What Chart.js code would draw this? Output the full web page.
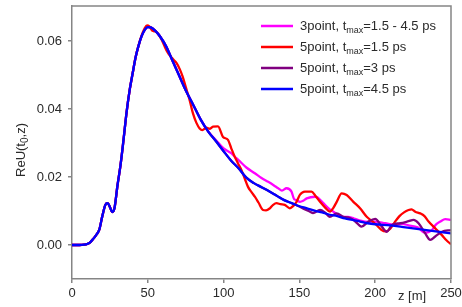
<!DOCTYPE html>
<html>
<head>
<meta charset="utf-8">
<script src="https://cdn.jsdelivr.net/npm/chart.js"></script>
<style>
  html, body { margin: 0; padding: 0; background: #fff; }
  #wrap { width: 462px; height: 307px; }
</style>
</head>
<body>
<div id="wrap"><canvas id="chart"></canvas></div>
<script>
// common rising part (all curves coincide here)
const zRise = [0, 5, 8, 10, 12, 14, 16, 18, 20, 22, 23.5, 25, 26.5, 28, 30, 32, 34, 36, 38, 40, 42, 44];
const vRise = [0, 0, 0.0001, 0.0003, 0.0008, 0.0018, 0.003, 0.0045, 0.0085, 0.0118, 0.0123, 0.0112, 0.0097, 0.0108, 0.0175, 0.0235, 0.031, 0.039, 0.0455, 0.0505, 0.0553, 0.0588];

// 5point, tmax=4.5 ps (blue)
const zBlue = [46, 48, 50, 52, 55, 58, 62, 66, 70, 75, 80, 85, 90, 95, 100, 105, 110, 115, 120, 125, 130, 135, 140, 145, 150, 155, 160, 165, 170, 175, 180, 185, 190, 195, 200, 210, 220, 230, 240, 250];
const vBlue = [0.0615, 0.0633, 0.0641, 0.064, 0.063, 0.0614, 0.0585, 0.0545, 0.0505, 0.0455, 0.0412, 0.0368, 0.0333, 0.0305, 0.0276, 0.0248, 0.0225, 0.0198, 0.0182, 0.017, 0.0158, 0.0145, 0.0132, 0.0123, 0.0114, 0.0108, 0.0101, 0.0096, 0.0089, 0.0085, 0.0078, 0.0074, 0.0069, 0.0064, 0.0061, 0.0058, 0.0052, 0.0046, 0.004, 0.0034];

// 5point, tmax=3 ps (purple) - follows blue up to ~148
const zPurple = [150, 153, 157, 159, 163.6, 167, 170, 174.6, 179, 182, 185.6, 189, 191, 195.5, 200, 204.4, 207.7, 211, 216.5, 222, 225.3, 228.6, 233, 236.3, 239.6, 244, 250];
const vPurple = [0.0113, 0.0106, 0.0098, 0.0094, 0.0103, 0.0095, 0.0083, 0.0093, 0.0083, 0.0081, 0.0074, 0.006, 0.0054, 0.0069, 0.0077, 0.0054, 0.0039, 0.0059, 0.0064, 0.007, 0.0074, 0.0064, 0.0034, 0.0015, 0.0025, 0.0039, 0.0044];

// 3point, tmax=1.5 - 4.5 ps (magenta) - follows blue up to ~90
const zMagenta = [95, 100, 105, 107.3, 110, 115, 120.6, 125, 129.4, 133, 136, 138.5, 141.5, 144.8, 146.5, 148.1, 150.4, 152.5, 154.8, 160.3, 162, 165.8, 170, 172.4, 177.9, 182, 186, 190, 195, 200, 206.6, 213.2, 217.6, 222, 228, 233, 237, 240, 243, 246.2, 250];
const vMagenta = [0.0308, 0.0284, 0.027, 0.026, 0.0249, 0.0228, 0.0211, 0.0197, 0.0186, 0.0176, 0.0167, 0.016, 0.0167, 0.0157, 0.0135, 0.0132, 0.0127, 0.013, 0.0137, 0.0142, 0.014, 0.0123, 0.0105, 0.0098, 0.0083, 0.0083, 0.0078, 0.0072, 0.0068, 0.0069, 0.0064, 0.0059, 0.0062, 0.0058, 0.0052, 0.0036, 0.0042, 0.006, 0.0069, 0.0076, 0.0074];

// 5point, tmax=1.5 ps (red)
const zRed = [46, 48, 49.5, 51, 53, 55, 57, 59, 61, 63, 65, 67, 69, 71, 73, 75, 77.6, 79.8, 82, 84.2, 86, 88.6, 91, 93, 96.3, 99.6, 102.9, 105, 107.3, 109.5, 111.8, 114, 116.1, 118.5, 120.6, 123, 126, 128, 130.5, 132.7, 134.9, 137.5, 140.4, 143.7, 146, 148.1, 150.4, 153.6, 158, 160.5, 163.6, 167, 170.2, 172.5, 174.6, 177.9, 181.2, 185.6, 190, 194.4, 198, 201, 204, 207, 209.9, 213, 216, 219, 222, 224, 226.4, 229.7, 232.5, 235.2, 239.6, 244, 247, 250];
const vRed = [0.0617, 0.0638, 0.0646, 0.0643, 0.063, 0.0628, 0.062, 0.0605, 0.0585, 0.0567, 0.0555, 0.0545, 0.0535, 0.0518, 0.0495, 0.0465, 0.0426, 0.0387, 0.036, 0.0343, 0.0338, 0.0345, 0.0342, 0.0348, 0.0349, 0.0318, 0.0309, 0.0285, 0.026, 0.024, 0.022, 0.0195, 0.0171, 0.0155, 0.0142, 0.0125, 0.0103, 0.0102, 0.0108, 0.0118, 0.0123, 0.012, 0.0118, 0.0108, 0.0115, 0.0127, 0.0148, 0.0157, 0.0157, 0.0145, 0.0127, 0.011, 0.0098, 0.011, 0.0127, 0.0152, 0.0147, 0.0127, 0.0108, 0.0083, 0.007, 0.0058, 0.0045, 0.004, 0.0048, 0.0068, 0.0085, 0.0096, 0.0103, 0.0105, 0.0098, 0.0093, 0.0085, 0.0069, 0.0049, 0.0029, 0.0014, 0.0002];

const xTicks = [0, 50, 100, 150, 200, 250];
const yTicks = [0.00, 0.02, 0.04, 0.06];

const seriesNames = [
  ["3point, t", "max", "=1.5 - 4.5 ps"],
  ["5point, t", "max", "=1.5 ps"],
  ["5point, t", "max", "=3 ps"],
  ["5point, t", "max", "=4.5 ps"]
];
const seriesColors = ["#ff00ff", "#ff0000", "#800080", "#0000ff"];

function pts(zs, vs) {
  return zs.map((z, i) => ({ x: z, y: vs[i] }));
}
function upTo(zs, vs, zEnd) {
  const out = [];
  zs.forEach((z, i) => { if (z < zEnd) out.push({ x: z, y: vs[i] }); });
  return out;
}

const risePts = pts(zRise, vRise);
const bluePts = risePts.concat(pts(zBlue, vBlue));
const purplePts = risePts.concat(upTo(zBlue, vBlue, 150), pts(zPurple, vPurple));
const magentaPts = risePts.concat(upTo(zBlue, vBlue, 95), pts(zMagenta, vMagenta));
const redPts = risePts.concat(pts(zRed, vRed));

const FONT = "Arial, 'Liberation Sans', sans-serif";
const FRAME = "#858585";
const TXT = "#2a2a2a";

// frame, axis titles and legend with subscripts
const decor = {
  id: 'decor',
  afterDraw(chart) {
    const ctx = chart.ctx;
    const a = chart.chartArea;
    ctx.save();
    ctx.strokeStyle = FRAME;
    ctx.lineWidth = 1.5;
    ctx.beginPath();
    ctx.moveTo(a.left, a.top);
    ctx.lineTo(a.right, a.top);
    ctx.lineTo(a.right, a.bottom);
    ctx.stroke();

    ctx.fillStyle = TXT;
    // x title
    ctx.font = "13px " + FONT;
    ctx.textAlign = "center";
    ctx.textBaseline = "middle";
    ctx.fillText("z [m]", 412, 296);

    // y title, rotated
    ctx.translate(20, 150);
    ctx.rotate(-Math.PI / 2);
    ctx.textAlign = "left";
    ctx.textBaseline = "alphabetic";
    const p1 = "ReU(t", p2 = "0", p3 = ",z)";
    ctx.font = "13px " + FONT;
    const w1 = ctx.measureText(p1).width;
    const w3 = ctx.measureText(p3).width;
    ctx.font = "10px " + FONT;
    const w2 = ctx.measureText(p2).width;
    let x = -(w1 + w2 + w3) / 2;
    ctx.font = "13px " + FONT;
    ctx.fillText(p1, x, 5);
    x += w1;
    ctx.font = "10px " + FONT;
    ctx.fillText(p2, x, 8);
    x += w2;
    ctx.font = "13px " + FONT;
    ctx.fillText(p3, x, 5);
    ctx.setTransform(1, 0, 0, 1, 0, 0);

    // legend
    seriesNames.forEach((parts, i) => {
      const y = 26 + i * 21;
      ctx.strokeStyle = seriesColors[i];
      ctx.lineWidth = 2.5;
      ctx.beginPath();
      ctx.moveTo(261, y);
      ctx.lineTo(293, y);
      ctx.stroke();
      ctx.fillStyle = TXT;
      ctx.textAlign = "left";
      ctx.textBaseline = "alphabetic";
      let tx = 300;
      ctx.font = "13px " + FONT;
      ctx.fillText(parts[0], tx, y + 4);
      tx += ctx.measureText(parts[0]).width;
      ctx.font = "9px " + FONT;
      ctx.fillText(parts[1], tx, y + 7);
      tx += ctx.measureText(parts[1]).width;
      ctx.font = "13px " + FONT;
      ctx.fillText(parts[2], tx, y + 4);
    });
    ctx.restore();
  }
};

// lower order is drawn on top: blue over purple over red over magenta
function line(data, color, order) {
  return {
    data: data,
    borderColor: color,
    borderWidth: 2.3,
    pointRadius: 0,
    fill: false,
    order: order,
    cubicInterpolationMode: 'monotone'
  };
}

new Chart("chart", {
  type: "line",
  data: {
    datasets: [
      line(magentaPts, seriesColors[0], 4),
      line(redPts, seriesColors[1], 3),
      line(purplePts, seriesColors[2], 2),
      line(bluePts, seriesColors[3], 1)
    ]
  },
  plugins: [decor],
  options: {
    responsive: true,
    maintainAspectRatio: false,
    animation: false,
    layout: { padding: { left: 0, top: 6, right: 11, bottom: 0 } },
    plugins: {
      legend: { display: false },
      tooltip: { enabled: false }
    },
    scales: {
      x: {
        type: "linear",
        min: 0,
        max: 250,
        afterBuildTicks: (s) => { s.ticks = xTicks.map(v => ({ value: v })); },
        afterFit: (s) => { s.height = 28; s.paddingLeft = 0; s.paddingRight = 0; },
        grid: { drawOnChartArea: false, drawTicks: true, tickLength: 4, color: FRAME, lineWidth: 1.5 },
        border: { display: true, color: FRAME, width: 1.5 },
        ticks: {
          color: TXT,
          font: { family: FONT, size: 13 },
          padding: 3,
          maxRotation: 0,
          callback: (v) => v
        }
      },
      y: {
        min: -0.01,
        max: 0.0703,
        afterBuildTicks: (s) => { s.ticks = yTicks.map(v => ({ value: v })); },
        afterFit: (s) => { s.width = 72; s.paddingTop = 0; s.paddingBottom = 0; },
        grid: { drawOnChartArea: false, drawTicks: true, tickLength: 4, color: FRAME, lineWidth: 1.5 },
        border: { display: true, color: FRAME, width: 1.5 },
        ticks: {
          color: TXT,
          font: { family: FONT, size: 13 },
          padding: 6,
          callback: (v) => v.toFixed(2)
        }
      }
    }
  }
});
</script>
</body>
</html>
